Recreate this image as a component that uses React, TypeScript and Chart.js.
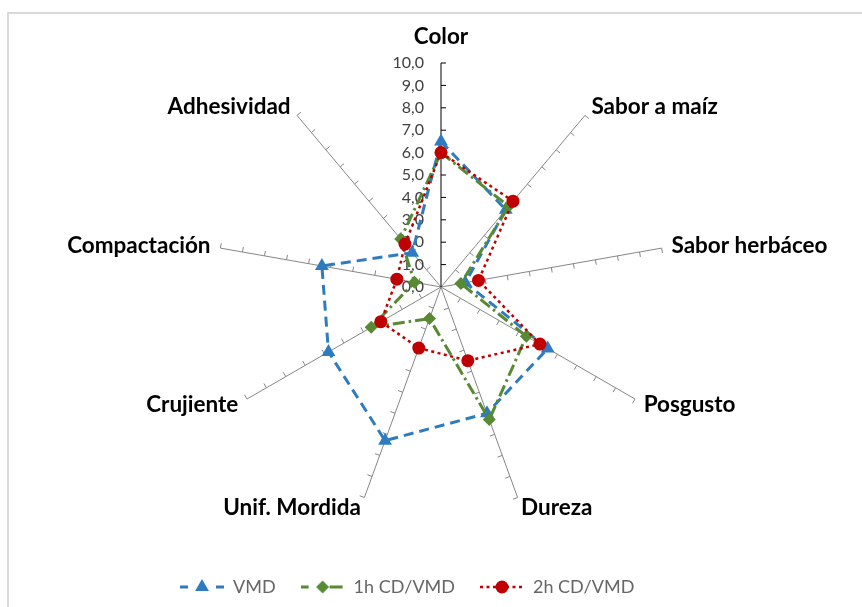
import React, { useEffect, useRef } from "react";
import { Chart, registerables } from "chart.js";

Chart.register(...registerables);

const CATEGORIES = [
  "Color",
  "Sabor a maíz",
  "Sabor herbáceo",
  "Posgusto",
  "Dureza",
  "Unif. Mordida",
  "Crujiente",
  "Compactación",
  "Adhesividad",
];
const SERIES_NAMES = ["VMD", "1h CD/VMD", "2h CD/VMD"];
const VMD = [6.5, 4.5, 1.1, 5.5, 6.0, 7.3, 5.8, 5.4, 2.0];
const CD_1H = [6.0, 4.7, 0.9, 4.4, 6.3, 1.5, 3.6, 1.2, 2.8];
const CD_2H = [6.0, 5.0, 1.7, 5.1, 3.5, 2.9, 3.1, 2.0, 2.5];
const TICK_LABELS = ["0,0", "1,0", "2,0", "3,0", "4,0", "5,0", "6,0", "7,0", "8,0", "9,0", "10,0"];

const BLUE = "#2F7BC0";
const GREEN = "#578A33";
const RED = "#C00000";
const FONT = "Lato";

function drawMarker(ctx: CanvasRenderingContext2D, kind: string, x: number, y: number, color: string) {
  ctx.fillStyle = color;
  ctx.beginPath();
  if (kind === "triangle") {
    const r = 8;
    ctx.moveTo(x, y - r);
    ctx.lineTo(x + r * 0.866, y + r / 2);
    ctx.lineTo(x - r * 0.866, y + r / 2);
    ctx.closePath();
  } else if (kind === "diamond") {
    const r = 6.5;
    ctx.moveTo(x, y - r);
    ctx.lineTo(x + r, y);
    ctx.lineTo(x, y + r);
    ctx.lineTo(x - r, y);
    ctx.closePath();
  } else {
    ctx.arc(x, y, 6.5, 0, Math.PI * 2);
  }
  ctx.fill();
}

function makeSymbol(kind: string, color: string): HTMLCanvasElement {
  const c = document.createElement("canvas");
  const w = 44;
  c.width = w;
  c.height = 18;
  const ctx = c.getContext("2d")!;
  const y = 9;
  const mid = w / 2;
  ctx.strokeStyle = color;
  ctx.lineWidth = kind === "circle" ? 2.5 : 3;
  if (kind === "triangle") {
    ctx.beginPath();
    ctx.moveTo(0, y);
    ctx.lineTo(8, y);
    ctx.moveTo(w - 8, y);
    ctx.lineTo(w, y);
    ctx.stroke();
  } else if (kind === "diamond") {
    ctx.beginPath();
    ctx.moveTo(0, y);
    ctx.lineTo(8, y);
    ctx.moveTo(mid + 7, y);
    ctx.lineTo(w - 2, y);
    ctx.stroke();
  } else {
    ctx.setLineDash([3, 3.5]);
    ctx.beginPath();
    ctx.moveTo(0, y);
    ctx.lineTo(w, y);
    ctx.stroke();
    ctx.setLineDash([]);
  }
  drawMarker(ctx, kind, mid, y, color);
  return c;
}

const radarDecor = {
  id: "radarDecor",
  beforeDatasetsDraw(chart: any) {
    const scale = chart.scales.r;
    const ctx: CanvasRenderingContext2D = chart.ctx;
    const n = chart.data.labels.length;
    ctx.save();
    // small tick marks on each spoke
    for (let i = 0; i < n; i++) {
      const theta = scale.getIndexAngle(i) - Math.PI / 2;
      const px = -Math.sin(theta);
      const py = Math.cos(theta);
      ctx.strokeStyle = i === 0 ? "#000000" : "#868686";
      ctx.lineWidth = 1;
      ctx.beginPath();
      scale.ticks.forEach((t: any) => {
        if (t.value === 0) return;
        const p = scale.getPointPositionForValue(i, t.value);
        ctx.moveTo(p.x, p.y);
        ctx.lineTo(p.x + px * 5, p.y + py * 5);
      });
      ctx.stroke();
    }
    // value labels along the first axis
    ctx.font = `16px ${FONT}`;
    ctx.fillStyle = "#404040";
    ctx.textAlign = "right";
    ctx.textBaseline = "middle";
    scale.ticks.forEach((t: any) => {
      const p = scale.getPointPositionForValue(0, t.value);
      ctx.fillText(t.label, p.x - 17, p.y);
    });
    // category labels
    ctx.font = `bold 22.5px ${FONT}`;
    ctx.fillStyle = "#000000";
    for (let i = 0; i < n; i++) {
      const a = scale.getIndexAngle(i);
      const s = Math.sin(a);
      const c = Math.cos(a);
      const end = scale.getPointPosition(i, scale.drawingArea);
      const x = end.x + 10 * s;
      let y = end.y - 11 * c;
      if (Math.abs(s) < 0.05) {
        ctx.textAlign = "center";
        y = end.y - 26 * c;
      } else {
        ctx.textAlign = s > 0 ? "left" : "right";
      }
      ctx.fillText(chart.data.labels[i], x, y);
    }
    ctx.restore();
  },
};

export default function App() {
  const ref = useRef<HTMLCanvasElement | null>(null);

  useEffect(() => {
    if (!ref.current) return;
    const symbols = [makeSymbol("triangle", BLUE), makeSymbol("diamond", GREEN), makeSymbol("circle", RED)];
    const colors = [BLUE, GREEN, RED];
    const chart = new Chart(ref.current, {
      type: "radar",
      data: {
        labels: CATEGORIES,
        datasets: [
          {
            label: SERIES_NAMES[0],
            data: VMD,
            borderColor: BLUE,
            backgroundColor: "transparent",
            borderWidth: 3,
            borderDash: [10, 6],
            fill: false,
            pointStyle: "triangle",
            pointRadius: 8,
            pointBackgroundColor: BLUE,
            pointBorderColor: BLUE,
            pointBorderWidth: 0,
            order: 3,
          },
          {
            label: SERIES_NAMES[1],
            data: CD_1H,
            borderColor: GREEN,
            backgroundColor: "transparent",
            borderWidth: 3,
            borderDash: [12, 4, 2.5, 4],
            fill: false,
            pointStyle: "rectRot",
            pointRadius: 6.5,
            pointBackgroundColor: GREEN,
            pointBorderColor: GREEN,
            pointBorderWidth: 0,
            order: 2,
          },
          {
            label: SERIES_NAMES[2],
            data: CD_2H,
            borderColor: RED,
            backgroundColor: "transparent",
            borderWidth: 2.5,
            borderDash: [3, 3.5],
            fill: false,
            pointStyle: "circle",
            pointRadius: 6.5,
            pointBackgroundColor: RED,
            pointBorderColor: RED,
            pointBorderWidth: 0,
            order: 1,
          },
        ],
      },
      options: {
        responsive: false,
        devicePixelRatio: 1,
        animation: false,
        layout: { padding: { left: 155, right: 135, top: 63, bottom: 1 } },
        elements: { line: { tension: 0 } },
        scales: {
          r: {
            min: 0,
            max: 10,
            startAngle: 0,
            grid: { display: false },
            angleLines: {
              display: true,
              lineWidth: 1,
              color: (c: any) => (c.index === 0 ? "#000000" : "#868686"),
            },
            pointLabels: { display: false },
            ticks: {
              display: false,
              stepSize: 1,
              callback: (_v: any, i: number) => TICK_LABELS[i],
            },
          },
        },
        plugins: {
          tooltip: { enabled: false },
          legend: {
            display: true,
            position: "bottom",
            align: "start",
            title: {
              display: true,
              text: " ",
              font: { size: 10, lineHeight: 1 },
              padding: { top: 32, bottom: 0 },
            },
            labels: {
              usePointStyle: true,
              pointStyleWidth: 44,
              padding: 25,
              color: "#262626",
              font: { family: FONT, size: 18 },
              generateLabels: () =>
                SERIES_NAMES.map((name, i) => ({
                  text: name,
                  pointStyle: symbols[i],
                  fillStyle: colors[i],
                  strokeStyle: colors[i],
                  lineWidth: 0,
                  hidden: false,
                  datasetIndex: i,
                })),
            },
          },
        },
      },
      plugins: [radarDecor],
    } as any);
    return () => chart.destroy();
  }, []);

  return (
    <div
      style={{
        position: "fixed",
        left: 0,
        top: 0,
        width: 862,
        height: 607,
        overflow: "hidden",
        background: "#ffffff",
      }}
    >
      <div
        style={{
          position: "absolute",
          left: 7,
          top: 12,
          width: 900,
          height: 700,
          border: "2px solid #d9d9d9",
          boxSizing: "border-box",
        }}
      />
      <canvas
        ref={ref}
        width={862}
        height={607}
        style={{ position: "absolute", left: 0, top: 0, width: 862, height: 607 }}
      />
    </div>
  );
}
